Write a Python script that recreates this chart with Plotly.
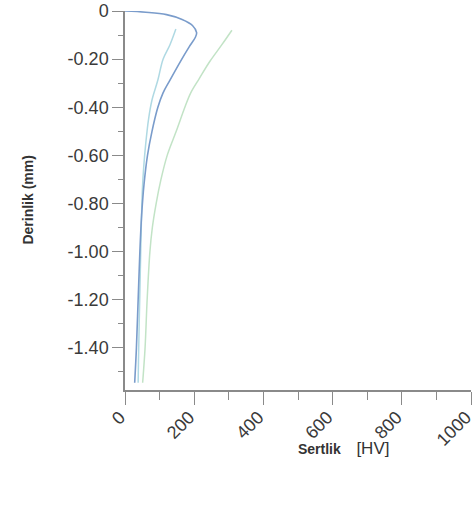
import plotly.graph_objects as go

# Series (hardness HV, depth mm)
blue_hv = [0, 60, 120, 165, 195, 207, 203, 185, 160, 130, 110, 95, 78, 65, 55, 48, 43, 38, 33, 28]
blue_depth = [0, -0.005, -0.015, -0.035, -0.06, -0.09, -0.11, -0.15, -0.21, -0.287, -0.34, -0.40, -0.50, -0.60, -0.72, -0.85, -1.00, -1.20, -1.40, -1.545]

cyan_hv = [147, 130, 110, 95, 78, 68, 60, 54, 50, 47, 44, 41, 39, 38]
cyan_depth = [-0.075, -0.14, -0.20, -0.287, -0.37, -0.45, -0.55, -0.65, -0.75, -0.90, -1.10, -1.30, -1.45, -1.545]

green_hv = [309, 280, 245, 215, 190, 173, 148, 122, 104, 90, 79, 72, 64, 58, 51]
green_depth = [-0.08, -0.14, -0.21, -0.28, -0.34, -0.40, -0.50, -0.60, -0.70, -0.80, -0.90, -1.00, -1.20, -1.40, -1.545]

y_tickvals = [0, -0.2, -0.4, -0.6, -0.8, -1.0, -1.2, -1.4]
y_ticktext = ["0", "-0.20", "-0.40", "-0.60", "-0.80", "-1.00", "-1.20", "-1.40"]
x_tickvals = [0, 200, 400, 600, 800, 1000]
x_ticktext = ["0", "200", "400", "600", "800", "1000"]

fig = go.Figure()
fig.add_trace(go.Scatter(x=green_hv, y=green_depth, mode="lines", line=dict(color="#c2e3c6", width=1.5, shape="spline")))
fig.add_trace(go.Scatter(x=cyan_hv, y=cyan_depth, mode="lines", line=dict(color="#afd9e3", width=1.5, shape="spline")))
fig.add_trace(go.Scatter(x=blue_hv, y=blue_depth, mode="lines", line=dict(color="#7a9ccb", width=1.6, shape="spline")))

axis_font = dict(family="Arial, Liberation Sans", size=18, color="#3a3a3a")
fig.update_layout(
    width=473, height=506,
    margin=dict(l=125, r=2, t=11, b=116, autoexpand=False),
    paper_bgcolor="white", plot_bgcolor="white",
    showlegend=False,
    xaxis=dict(range=[0, 1000], tickvals=x_tickvals, ticktext=x_ticktext, tickangle=-45,
               automargin=False, ticklabeloverflow="allow",
               ticklabelshift=-5, ticklabelstandoff=-5,
               showgrid=False, zeroline=False, showline=True, linecolor="#8a8a8a", linewidth=1.5,
               ticks="outside", ticklen=13, tickcolor="#8a8a8a", tickwidth=1.3, tickfont=axis_font,
               minor=dict(ticks="outside", dtick=100, tick0=0, ticklen=8, tickcolor="#8a8a8a")),
    yaxis=dict(range=[-1.575, 0], tickvals=y_tickvals, ticktext=y_ticktext,
               automargin=False, ticklabeloverflow="allow",
               showgrid=False, zeroline=False, showline=True, linecolor="#8a8a8a", linewidth=1.5,
               ticks="outside", ticklen=11, tickcolor="#8a8a8a", tickwidth=1.3, tickfont=axis_font,
               minor=dict(ticks="outside", dtick=0.1, tick0=0, ticklen=5, tickcolor="#8a8a8a")),
)
fig.add_annotation(text="<b>Derinlik (mm)</b>", xref="paper", yref="paper", x=-0.283, y=0.5,
                   xanchor="center", yanchor="middle", textangle=-90, showarrow=False,
                   font=dict(family="Arial, Liberation Sans", size=14, color="#333"))
fig.add_annotation(text="<b>Sertlik</b>    <span style='font-size:17px'>[HV]</span>", xref="paper", yref="paper",
                   x=0.632, y=-0.155, xanchor="center", yanchor="middle", showarrow=False,
                   font=dict(family="Arial, Liberation Sans", size=14, color="#333"))
fig.write_html("out.html", config={"displayModeBar": False},
               post_script="document.body.style.margin='0';")
